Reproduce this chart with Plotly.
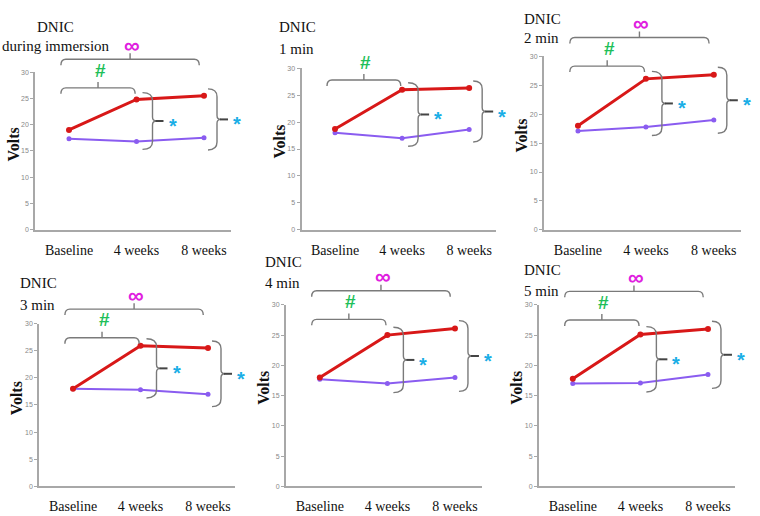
import plotly.graph_objects as go

# ---------------- data ----------------
categories = ["Baseline", "4 weeks", "8 weeks"]
panel_line1 = ["DNIC", "DNIC", "DNIC", "DNIC", "DNIC", "DNIC"]
panel_line2 = ["during immersion", "1 min", "2 min", "3 min", "4 min", "5 min"]

red_p1 = [19.0, 24.8, 25.5]
red_p2 = [18.7, 26.0, 26.3]
red_p3 = [18.0, 26.1, 26.8]
red_p4 = [18.0, 25.9, 25.5]
red_p5 = [18.0, 25.0, 26.1]
red_p6 = [17.8, 25.1, 26.0]

purple_p1 = [17.3, 16.8, 17.5]
purple_p2 = [18.0, 17.0, 18.6]
purple_p3 = [17.1, 17.8, 19.0]
purple_p4 = [18.0, 17.8, 17.0]
purple_p5 = [17.7, 17.0, 18.0]
purple_p6 = [17.0, 17.1, 18.5]

y_tick_values = [0, 5, 10, 15, 20, 25, 30]
has_infinity = [True, False, True, True, True, True]

red_series = [red_p1, red_p2, red_p3, red_p4, red_p5, red_p6]
purple_series = [purple_p1, purple_p2, purple_p3, purple_p4, purple_p5, purple_p6]

# ---------------- layout geometry (pixels) ----------------
W, H = 760, 516
# plot boxes: x_left, x_right, y_top(30), y_bottom(0)
boxes = [
    (35.25, 231, 69, 229),
    (301.5, 496, 65, 229),
    (544, 741, 53, 229),
    (39.25, 235, 324, 489),
    (286, 482, 305, 489),
    (539, 735, 305, 489),
]
# title positions: (x line1, y line1, x line2, y line2)
title_pos = [
    (35, 23, 0, 43),
    (277, 23, 277, 46),
    (522, 15, 522, 34),
    (18, 283, 18, 305),
    (263, 262, 263, 283),
    (522, 270, 522, 291),
]
XMIN, XMAX = -0.5, 2.4
YMIN, YMAX = 0, 30

SERIF = "Times New Roman, Liberation Serif, serif"
SANS = "Arial, Liberation Sans, sans-serif"
RED = "#d81818"
PURPLE = "#8a5cf0"
GRAY = "#7a7a7a"
AXIS = "#a8a8a8"


def fx(px):
    return px / W


def fy(py):
    return 1 - py / H


def P(px, py):
    return f"{fx(px):.5f},{fy(py):.5f}"


fig = go.Figure()
shapes = []
annotations = []

for i in range(6):
    x0, x1, yt, yb = boxes[i]
    sfx = "" if i == 0 else str(i + 1)
    xa = "x" + sfx
    ya = "y" + sfx

    def dx(v, x0=x0, x1=x1):
        return x0 + (v - XMIN) / (XMAX - XMIN) * (x1 - x0)

    def dy(v, yt=yt, yb=yb):
        return yb - (v - YMIN) / (YMAX - YMIN) * (yb - yt)

    xs = list(range(len(categories)))
    red = red_series[i]
    pur = purple_series[i]

    fig.add_trace(go.Scatter(x=xs, y=pur, mode="lines+markers", xaxis=xa, yaxis=ya,
                             line=dict(color=PURPLE, width=2),
                             marker=dict(color=PURPLE, size=5), showlegend=False))
    fig.add_trace(go.Scatter(x=xs, y=red, mode="lines+markers", xaxis=xa, yaxis=ya,
                             line=dict(color=RED, width=3),
                             marker=dict(color=RED, size=6), showlegend=False))

    fig.layout["xaxis" + sfx] = dict(
        domain=[fx(x0), fx(x1)], range=[XMIN, XMAX], anchor=ya,
        tickmode="array", tickvals=xs, ticktext=categories,
        tickfont=dict(family=SERIF, size=14, color="#111"),
        showgrid=False, zeroline=False, showline=True, linecolor=AXIS, linewidth=2,
        ticks="", ticklabelstandoff=6, fixedrange=True)
    fig.layout["yaxis" + sfx] = dict(
        domain=[fy(yb), fy(yt)], range=[YMIN, YMAX], anchor=xa,
        tickmode="array", tickvals=y_tick_values,
        tickfont=dict(family=SANS, size=7, color="#888"),
        showgrid=False, zeroline=False, showline=True, linecolor=AXIS, linewidth=2,
        ticks="outside", ticklen=3, tickcolor=AXIS, tickwidth=1, fixedrange=True)

    # titles
    tx1, ty1, tx2, ty2 = title_pos[i]
    annotations.append(dict(x=fx(tx1), y=fy(ty1), xref="paper", yref="paper",
                            text=panel_line1[i], showarrow=False, xanchor="left",
                            yanchor="middle", font=dict(family=SERIF, size=15, color="#111")))
    annotations.append(dict(x=fx(tx2), y=fy(ty2), xref="paper", yref="paper",
                            text=panel_line2[i], showarrow=False, xanchor="left",
                            yanchor="middle", font=dict(family=SERIF, size=15, color="#111")))
    # Volts
    annotations.append(dict(x=fx(x0 - 22), y=fy(dy(16.3)), xref="paper", yref="paper",
                            text="<b>Volts</b>", textangle=-90, showarrow=False,
                            xanchor="center", yanchor="middle",
                            font=dict(family=SERIF, size=16, color="#111")))

    # top brackets
    low_y = dy(max(red) + 1.5)
    up_y = low_y - 29
    brackets = [(dx(-0.12), dx(0.98), low_y, "#", "#1fbf5a", 18)]
    if has_infinity[i]:
        brackets.append((dx(-0.12), dx(1.93), up_y, "∞", "#e020e0", 14))
    for (ba, bb, by, sym, col, off) in brackets:
        bm = (ba + bb) / 2
        path = (f"M {P(ba, by + 6)} Q {P(ba, by)} {P(ba + 5, by)} L {P(bb - 5, by)} "
                f"Q {P(bb, by)} {P(bb, by + 6)} M {P(bm, by)} L {P(bm, by - 6)}")
        shapes.append(dict(type="path", path=path, xref="paper", yref="paper",
                           line=dict(color=GRAY, width=1.4)))
        annotations.append(dict(x=fx(bm + 2), y=fy(by - off), xref="paper", yref="paper",
                                text=f"<b>{sym}</b>", showarrow=False,
                                xanchor="center", yanchor="middle",
                                font=dict(family=SANS, size=19 if sym == "#" else 22, color=col)))

    # right braces with asterisks
    for k, (lo, vo, bot_pad) in zip([1, 2], [(6, 16, 1.5), (4, 13, 2.3)]):
        xl = dx(k) + lo
        xv = dx(k) + vo
        ya_ = dy(red[k] + 1.3)
        yb_ = dy(pur[k] - bot_pad)
        ym = (ya_ + yb_) / 2
        path = (f"M {P(xl, ya_)} Q {P(xv, ya_)} {P(xv, ya_ + 8)} L {P(xv, ym - 4)} "
                f"Q {P(xv, ym)} {P(xv + 4, ym)} Q {P(xv, ym)} {P(xv, ym + 4)} "
                f"L {P(xv, yb_ - 8)} Q {P(xv, yb_)} {P(xl, yb_)}")
        shapes.append(dict(type="path", path=path, xref="paper", yref="paper",
                           line=dict(color=GRAY, width=1.4)))
        shapes.append(dict(type="line", x0=fx(xv + 3), x1=fx(xv + 11), y0=fy(ym), y1=fy(ym),
                           xref="paper", yref="paper", line=dict(color="#444", width=2)))
        annotations.append(dict(x=fx(xv + 20), y=fy(ym), xref="paper", yref="paper",
                                text="<b>*</b>", showarrow=False, yshift=-5,
                                xanchor="center", yanchor="middle",
                                font=dict(family=SANS, size=20, color="#1aaee6")))

fig.update_layout(width=W, height=H, margin=dict(l=0, r=0, t=0, b=0),
                  paper_bgcolor="white", plot_bgcolor="white",
                  shapes=shapes, annotations=annotations, showlegend=False)

fig.write_html("out.html", config={"displayModeBar": False},
               post_script="document.body.style.margin='0';document.body.style.overflow='hidden';")
